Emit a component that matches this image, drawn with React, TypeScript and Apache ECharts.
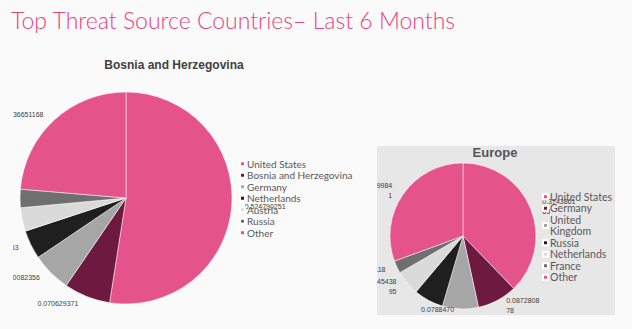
import React, { useEffect, useRef } from "react";
import * as echarts from "echarts";

const pageTitle = "Top Threat Source Countries– Last 6 Months";

const leftTitle = "Bosnia and Herzegovina";
const leftNames = ["United States", "Bosnia and Herzegovina", "Germany", "Netherlands", "Austria", "Russia", "Other"];
const leftValues = [0.524790251, 0.070629371, 0.060082356, 0.043909563, 0.035964478, 0.027972813, 0.236651168];
const leftColors = ["#e4548a", "#6e1a40", "#a6a6a6", "#1f1f1f", "#dadada", "#6f6f6f", "#e4548a"];

const rightTitle = "Europe";
const rightNames = ["United States", "Germany", "United Kingdom", "Russia", "Netherlands", "France", "Other"];
const rightValues = [0.374386163, 0.087280878, 0.078847016, 0.065131816, 0.054543895, 0.0276118, 0.30299841];
const rightColors = ["#e4548a", "#6e1a40", "#a6a6a6", "#1f1f1f", "#dadada", "#6f6f6f", "#e4548a"];

const BG = "#fafafa";

export default function App() {
  const ref = useRef<HTMLDivElement>(null);
  useEffect(() => {
    if (!ref.current) return;
    const chart = echarts.init(ref.current, null, { renderer: "svg" });
    const leftData = leftNames.map((n, i) => ({ name: n, value: leftValues[i], itemStyle: { color: leftColors[i] } }));
    const rightData = rightNames.map((n, i) => ({ name: n, value: rightValues[i], itemStyle: { color: rightColors[i] } }));
    const labelFont = "Liberation Sans";
    chart.setOption({
      animation: false,
      backgroundColor: BG,
      title: [
        {
          text: pageTitle,
          left: 11,
          top: 8,
          padding: 0,
          textStyle: { color: "#e6457d", fontSize: 23, fontWeight: 300, fontFamily: "Lato" },
        },
        {
          text: leftTitle,
          left: 174,
          top: 59,
          padding: 0,
          textAlign: "center",
          textStyle: { color: "#404040", fontSize: 12, fontWeight: "bold", fontFamily: "Liberation Sans" },
        },
        {
          text: rightTitle,
          left: 495,
          top: 146,
          padding: 0,
          textAlign: "center",
          textStyle: { color: "#555555", fontSize: 13, fontWeight: "bold", fontFamily: "Liberation Sans" },
        },
      ],
      legend: [
        {
          orient: "vertical",
          left: 239,
          top: 158,
          padding: 0,
          itemWidth: 5,
          itemHeight: 5,
          itemGap: 0,
          icon: "rect",
          selectedMode: false,
          textStyle: { fontSize: 10, lineHeight: 11.5, color: "#595959", fontFamily: "Lato", padding: [0, 0, 0, -3] },
          data: leftNames.map((n, i) => ({ name: n, itemStyle: { color: leftColors[i] } })),
        },
        {
          orient: "vertical",
          left: 542,
          top: 191,
          padding: 0,
          itemWidth: 5,
          itemHeight: 5,
          itemGap: 0,
          icon: "rect",
          selectedMode: false,
          formatter: (n: string) => (n === "United Kingdom" ? "United\nKingdom" : n),
          textStyle: { fontSize: 10.5, lineHeight: 11.5, color: "#595959", fontFamily: "Lato", padding: [0, 0, 0, -3] },
          data: rightNames.map((n, i) => ({ name: n, itemStyle: { color: rightColors[i] } })),
        },
      ],
      graphic: [
        {
          type: "rect",
          z: -1,
          shape: { x: 377, y: 146, width: 238, height: 169 },
          style: { fill: "#e7e7e7" },
        },
        { type: "rect", z: 100, shape: { x: 0, y: 80, width: 13, height: 249 }, style: { fill: BG } },
        { type: "rect", z: 100, shape: { x: 358, y: 140, width: 19, height: 189 }, style: { fill: BG } },
        { type: "rect", z: 100, shape: { x: 340, y: 245, width: 37, height: 84 }, style: { fill: BG } },
        { type: "rect", z: 100, shape: { x: 340, y: 315, width: 292, height: 14 }, style: { fill: BG } },
      ],
      series: [
        {
          type: "pie",
          center: [126, 198],
          radius: 106,
          startAngle: 90,
          avoidLabelOverlap: false,
          itemStyle: { borderColor: "#ffffff", borderWidth: 0.5 },
          label: {
            show: true,
            position: "outside",
            fontSize: 7,
            color: "#404040",
            fontFamily: labelFont,
            formatter: (p: any) => String(p.value),
          },
          labelLine: { show: false, length: 7, length2: 1 },
          emphasis: { disabled: true },
          data: leftData,
        },
        {
          type: "pie",
          center: [463, 236],
          radius: 73,
          startAngle: 90,
          avoidLabelOverlap: false,
          itemStyle: { borderColor: "#ffffff", borderWidth: 0.5 },
          label: {
            show: true,
            position: "outside",
            fontSize: 7,
            lineHeight: 10,
            color: "#404040",
            fontFamily: labelFont,
            formatter: (p: any) => {
              const s = String(p.value);
              return s.length > 9 ? s.slice(0, 9) + "\n" + s.slice(9) : s;
            },
          },
          labelLine: { show: false, length: 6, length2: 1 },
          emphasis: { disabled: true },
          data: rightData,
        },
      ],
    });
    return () => chart.dispose();
  }, []);
  return <div ref={ref} style={{ position: "fixed", left: 0, top: 0, width: 632, height: 329 }} />;
}
